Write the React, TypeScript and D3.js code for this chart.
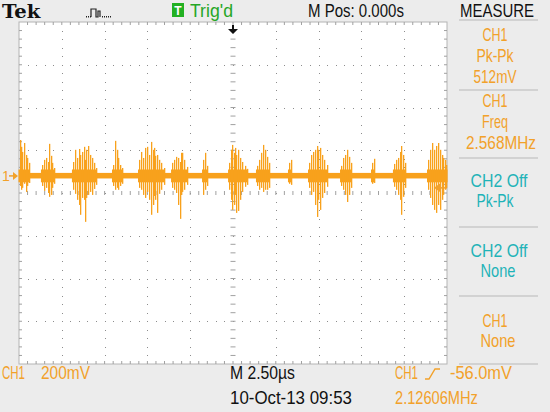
import React, { useLayoutEffect, useRef } from 'react';
import * as d3 from 'd3';

// time axis (µs) and CH1 volts (mV)
const timeDivs = [-12.5, -10, -7.5, -5, -2.5, 0, 2.5, 5, 7.5, 10, 12.5];
const voltDivs = [-880, -680, -480, -280, -80, 120, 320, 520, 720];

// burst spikes: time (µs), top (mV), bottom (mV)
const spikeTimes = [
  -12.47, -12.38, -12.32, -12.2, -12.12, -12.03, -11.92,
  -11.16, -11.04, -10.92, -10.81, -10.75, -10.66, -10.57, -10.46,
  -9.35, -9.23, -9.11, -9.0, -8.94, -8.82, -8.7, -8.64, -8.56, -8.47, -8.35, -8.24, -8.12, -8.0,
  -7.01, -6.89, -6.8, -6.72, -6.6, -6.48,
  -5.49, -5.37, -5.26, -5.14, -5.02, -4.91, -4.79, -4.7, -4.61, -4.53, -4.44, -4.32, -4.21, -4.03,
  -3.56, -3.45, -3.33, -3.21, -3.12, -3.04, -2.95, -2.86, -2.69,
  -1.75, -1.64, -1.52,
  -0.23, -0.12, -0.06, 0.03, 0.12, 0.2, 0.29, 0.41, 0.53, 0.7, 0.82,
  1.4, 1.52, 1.64, 1.75, 1.87, 1.99, 2.1,
  3.27, 3.36,
  4.44, 4.56, 4.67, 4.79, 4.88, 4.96, 5.08, 5.2, 5.32, 5.49,
  6.31, 6.43, 6.54, 6.66, 6.78, 6.89,
  8.12, 8.21,
  9.4, 9.52, 9.64, 9.75, 9.84, 9.93, 10.05,
  11.39, 11.51, 11.62, 11.74, 11.86, 11.97, 12.09, 12.18, 12.27, 12.38, 12.47,
];
const spikeHighs = [
  168, 136, 112, 154, 98, 84, 61,
  51, 75, 84, 65, 150, 94, 61, 37,
  65, 122, 84, 126, 98, 112, 136, 75, 122, 140, 98, 84, 61, 37,
  51, 164, 122, 84, 51, 37,
  75, 112, 84, 131, 136, 98, 159, 122, 131, 94, 98, 75, 61, 37,
  61, 75, 89, 84, 65, 108, 108, 75, 42,
  75, 108, 47,
  61, 122, 145, 108, 131, 98, 122, 84, 65, 47, 33,
  47, 75, 108, 145, 122, 89, 61,
  61, 75,
  61, 98, 112, 122, 140, 122, 131, 98, 75, 51,
  47, 84, 98, 122, 89, 61,
  61, 80,
  56, 75, 84, 112, 140, 98, 61,
  75, 122, 154, 122, 140, 154, 122, 98, 84, 75, 51,
];
const spikeLows = [
  -47, -65, -56, -37, -75, -47, -33,
  -47, -70, -56, -80, -98, -89, -56, -37,
  -65, -84, -112, -136, -182, -103, -112, -215, -103, -89, -75, -89, -61, -42,
  -47, -65, -56, -65, -47, -37,
  -56, -65, -89, -103, -75, -112, -182, -136, -94, -112, -173, -84, -65, -42,
  -56, -65, -80, -136, -201, -89, -75, -65, -42,
  -89, -65, -47,
  -65, -112, -159, -136, -89, -173, -164, -112, -75, -51, -42,
  -47, -65, -56, -75, -65, -65, -56,
  -37, -42,
  -56, -89, -75, -136, -192, -112, -159, -103, -80, -51,
  -47, -65, -89, -122, -89, -56,
  -37, -33,
  -51, -65, -89, -112, -182, -98, -56,
  -65, -103, -136, -159, -173, -136, -159, -112, -89, -65, -56,
];
const baselineBand = [-12, 14];
const triggerLevel = -56;

const orange = '#f2a12a';
const trace = '#f8a11c';
const cyan = '#1fb3b8';
const green = '#26a626';
const sans = '"Liberation Sans", Arial, sans-serif';

const L = 19, R = 447, TOP = 22, BOT = 364;

// text squeezed horizontally to the measured width of the screen font
const Txt = ({ x, y, len, fill = '#111', anchor = 'start', size = 18, family = sans, weight = 'normal', children }: any) => {
  const ref = useRef<SVGTextElement>(null);
  useLayoutEffect(() => {
    const el = ref.current;
    if (!el) return;
    el.removeAttribute('transform');
    const w = el.getBBox().width || 1;
    const s = len / w;
    el.setAttribute('transform', `translate(${x},0) scale(${s},1) translate(${-x},0)`);
  }, [x, len]);
  return (
    <text ref={ref} x={x} y={y} fill={fill} textAnchor={anchor} fontFamily={family}
      fontWeight={weight} fontSize={size}>{children}</text>
  );
};

export default function App() {
  const x = d3.scaleLinear().domain([-12.5, 12.5]).range([L, R]);
  const y = d3.scaleLinear().domain([-880, 720]).range([BOT, TOP]);
  const minorT = d3.range(0, 51).map(i => -12.5 + i * 0.5);
  const minorV = d3.range(0, 41).map(i => -880 + i * 40);

  const groups: { t: number; h: number; l: number }[][] = [];
  spikeTimes.forEach((t, i) => {
    const s = { t, h: spikeHighs[i], l: spikeLows[i] };
    const g = groups[groups.length - 1];
    if (!g || t - g[g.length - 1].t > 0.4) groups.push([s]);
    else g.push(s);
  });

  const dots: JSX.Element[] = [];
  timeDivs.slice(1, -1).forEach((t, i) => {
    if (t === 0) return;
    minorV.slice(1, -1).forEach((v, j) => dots.push(
      <rect key={`v${i}-${j}`} x={Math.round(x(t))} y={Math.round(y(v))} width={1} height={1} fill="#8c8c8c" />));
  });
  voltDivs.slice(1, -1).forEach((v, i) => {
    if (v === -80) return;
    minorT.slice(1, -1).forEach((t, j) => dots.push(
      <rect key={`h${i}-${j}`} x={Math.round(x(t))} y={Math.round(y(v))} width={1} height={1} fill="#8c8c8c" />));
  });

  const ty = y(triggerLevel);
  const gy = y(0);

  return (
    <svg width={550} height={412} style={{ position: 'fixed', left: 0, top: 0 }}>
      <rect width={550} height={412} fill="#ececec" />
      {/* top bar */}
      <Txt x={2} y={18} len={39} family='"DejaVu Serif", serif' weight="bold" size={18}>Tek</Txt>
      <path d="M91,17V9H96V17H98V11H100V17" fill="none" stroke="#222" strokeWidth={1.2} />
      {[86, 88, 90, 102, 104, 106, 108, 110].map(px => <rect key={px} x={px} y={16} width={1} height={1.5} fill="#222" />)}
      <rect x={172} y={3} width={12} height={14} fill="#22b022" />
      <text x={178} y={15} textAnchor="middle" fontFamily={sans} fontWeight="bold" fontSize={12} fill="#fff">T</text>
      <Txt x={190} y={17} len={43} fill={green}>Trig'd</Txt>
      <Txt x={308} y={17} len={96}>M Pos: 0.000s</Txt>
      <Txt x={460} y={17} len={74}>MEASURE</Txt>

      {/* graticule */}
      <rect x={L} y={TOP} width={R - L} height={BOT - TOP} fill="#fff" stroke="#b4b4b4" />
      {dots}
      {minorT.slice(1, -1).map(t => (
        <g key={`mt${t}`} stroke="#a0a0a0">
          <line x1={x(t)} x2={x(t)} y1={TOP} y2={TOP + 3} />
          <line x1={x(t)} x2={x(t)} y1={BOT - 3} y2={BOT} />
          <line x1={x(t)} x2={x(t)} y1={y(-80) - 2} y2={y(-80) + 2} />
        </g>
      ))}
      {minorV.slice(1, -1).map(v => (
        <g key={`mv${v}`} stroke="#a0a0a0">
          <line x1={L} x2={L + 3} y1={y(v)} y2={y(v)} />
          <line x1={R - 3} x2={R} y1={y(v)} y2={y(v)} />
          <line x1={x(0) - 2.5} x2={x(0) + 2.5} y1={y(v)} y2={y(v)} />
        </g>
      ))}

      {/* CH1 trace */}
      <g>
        <rect x={x(-12.5)} width={R - L} y={y(baselineBand[1])} height={y(baselineBand[0]) - y(baselineBand[1])} fill={trace} />
        {groups.map((g, i) => (
          <g key={i}>
            <rect x={x(g[0].t) - 1} width={x(g[g.length - 1].t) - x(g[0].t) + 2}
              y={y(30)} height={y(-30) - y(30)} fill={trace} />
            {g.map(s => <rect key={s.t} x={Math.round(x(s.t))} width={1.3} y={y(s.h)} height={y(s.l) - y(s.h)} fill={trace} />)}
          </g>
        ))}
      </g>

      {/* markers */}
      <path d={`M232,25H234V29H238L233,34L228,29H232Z`} fill="#111" />
      <text x={2} y={gy + 5} fontFamily={sans} fontSize={14} fill={orange}>1</text>
      <path d={`M9,${gy}H14`} stroke={orange} strokeWidth={1.5} />
      <path d={`M13,${gy - 4}L18,${gy}L13,${gy + 4}Z`} fill={orange} />
      <path d={`M447,${ty}H440`} stroke={orange} strokeWidth={1.5} />
      <path d={`M441,${ty - 5}L434,${ty}L441,${ty + 5}Z`} fill={orange} />

      {/* measure panel */}
      {[20, 90, 158, 227, 296, 364].map(sy => <line key={sy} x1={459} x2={538} y1={sy} y2={sy} stroke="#b8b8b8" />)}
      <Txt x={495} y={41} len={25} anchor="middle" fill={orange}>CH1</Txt>
      <Txt x={495} y={62} len={38} anchor="middle" fill={orange}>Pk-Pk</Txt>
      <Txt x={495} y={83} len={43} anchor="middle" fill={orange}>512mV</Txt>
      <Txt x={495} y={107} len={25} anchor="middle" fill={orange}>CH1</Txt>
      <Txt x={495} y={128} len={26} anchor="middle" fill={orange}>Freq</Txt>
      <Txt x={501} y={149} len={70} anchor="middle" fill={orange}>2.568MHz</Txt>
      <Txt x={499} y={187} len={58} anchor="middle" fill={cyan}>CH2 Off</Txt>
      <Txt x={495} y={207} len={38} anchor="middle" fill={cyan}>Pk-Pk</Txt>
      <Txt x={499} y={257} len={58} anchor="middle" fill={cyan}>CH2 Off</Txt>
      <Txt x={498} y={277} len={35} anchor="middle" fill={cyan}>None</Txt>
      <Txt x={495} y={327} len={25} anchor="middle" fill={orange}>CH1</Txt>
      <Txt x={498} y={347} len={35} anchor="middle" fill={orange}>None</Txt>

      {/* bottom bar */}
      <Txt x={2} y={379} len={23} fill={orange}>CH1</Txt>
      <Txt x={41} y={379} len={49} fill={orange}>200mV</Txt>
      <Txt x={230} y={379} len={65}>M 2.50µs</Txt>
      <Txt x={230} y={404} len={122}>10-Oct-13 09:53</Txt>
      <Txt x={395} y={379} len={23} fill={orange}>CH1</Txt>
      <path d="M425,379H429L435,369H440" fill="none" stroke={orange} strokeWidth={1.4} />
      <Txt x={450} y={379} len={62} fill={orange}>-56.0mV</Txt>
      <Txt x={395} y={404} len={83} fill={orange}>2.12606MHz</Txt>
    </svg>
  );
}
